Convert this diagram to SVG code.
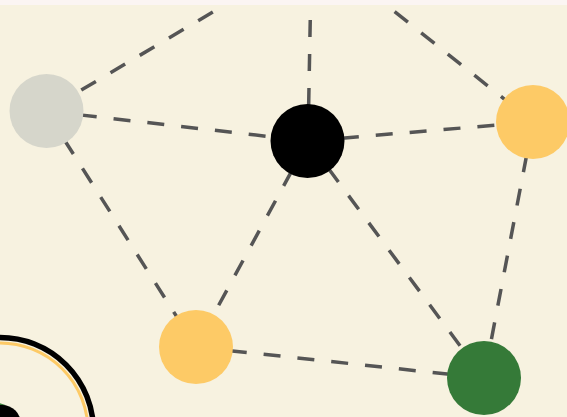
<svg xmlns="http://www.w3.org/2000/svg" width="567" height="417" viewBox="0 0 567 417">
<style>
.edge{fill:none;stroke:#555555;stroke-width:3.5;stroke-dasharray:17 17}
</style>
<rect x="0" y="0" width="567" height="417" fill="#f7f2e0"/>
<g id="connectors">
<line class="edge" x1="46" y1="111" x2="260" y2="-16" stroke-dashoffset="27"/>
<line class="edge" x1="308" y1="141" x2="311" y2="-20" stroke-dashoffset="32"/>
<line class="edge" x1="533" y1="122" x2="375" y2="-4" stroke-dashoffset="10"/>
<line class="edge" x1="46" y1="111" x2="308" y2="141"/>
<line class="edge" x1="308" y1="141" x2="533" y2="122"/>
<line class="edge" x1="308" y1="141" x2="196" y2="347"/>
<line class="edge" x1="308" y1="141" x2="484" y2="378"/>
<line class="edge" x1="46" y1="111" x2="196" y2="347"/>
<line class="edge" x1="196" y1="347" x2="484" y2="378"/>
<line class="edge" x1="533" y1="122" x2="484" y2="378"/>
</g>
<g id="node-gray"><circle cx="46.5" cy="111" r="37" fill="#d6d6cb"/></g>
<g id="node-black"><circle cx="307.5" cy="141" r="37" fill="#000000"/></g>
<g id="node-yellow-right"><circle cx="533" cy="122" r="37" fill="#fdca66"/></g>
<g id="node-yellow-bottom"><circle cx="196" cy="347" r="37" fill="#fdca66"/></g>
<g id="node-green"><circle cx="484" cy="378" r="37" fill="#357a38"/></g>
<g id="node-selected">
<circle cx="0" cy="431" r="93.5" fill="none" stroke="#000000" stroke-width="5.5"/>
<circle cx="0" cy="431" r="88" fill="none" stroke="#fdca66" stroke-width="3"/>
<circle cx="-2" cy="414" r="11" fill="#357a38"/>
<circle cx="2" cy="424" r="19" fill="#000000"/>
</g>
<rect x="0" y="0" width="567" height="5" fill="#fbf5f3"/>
</svg>
